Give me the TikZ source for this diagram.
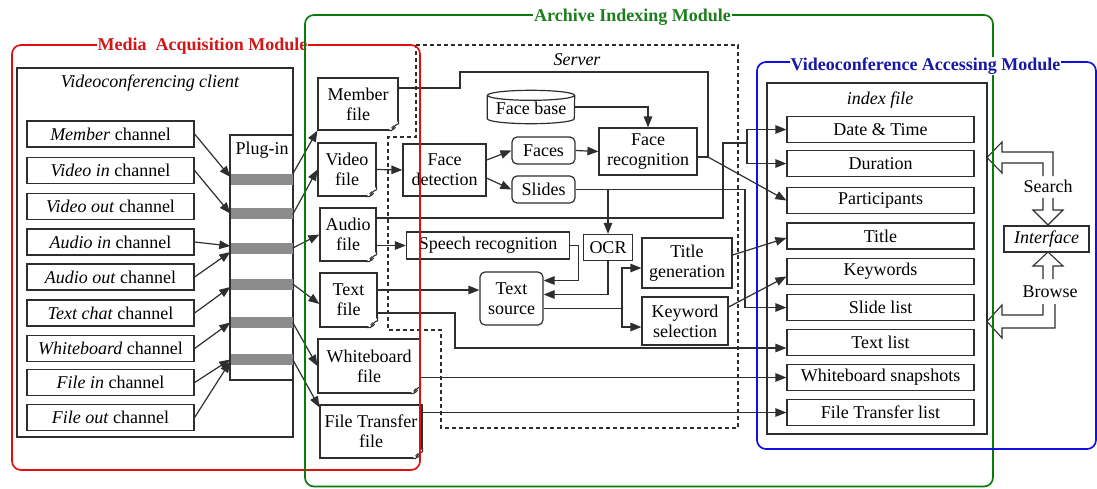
\documentclass[tikz,border=0pt]{standalone}
\usepackage{fontspec}
\setmainfont{Liberation Serif}
\usetikzlibrary{arrows.meta,calc}
\definecolor{lc}{HTML}{2E2E2E}
\definecolor{modred}{HTML}{E01010}
\definecolor{modgreen}{HTML}{0A7A0A}
\definecolor{modblue}{HTML}{1010E0}
\definecolor{tred}{HTML}{D01818}
\definecolor{tgreen}{HTML}{1E7E1E}
\definecolor{tblue}{HTML}{1818A8}
\definecolor{bargray}{HTML}{8C8C8C}
\newcommand{\filecurl}[1]{%
  \fill[white] ($(#1.south east)+(-11,1)$) -- ($(#1.south east)+(1,1)$) -- ($(#1.south east)+(1,-11)$) -- cycle;
  \draw[lc, line width=1.1pt] ($(#1.south east)+(-11,0)$) -- ($(#1.south east)+(-7,0)$) to[out=60,in=200] ($(#1.south east)+(0,-7)$) -- ($(#1.south east)+(0,-11)$);
  \draw[lc, line width=0.7pt] ($(#1.south east)+(-5,-3)$) circle[radius=1.8pt];}
\begin{document}
\begin{tikzpicture}[x=1pt,y=-1pt,
  font=\fontsize{18}{20}\selectfont,
  bx/.style={draw=lc, line width=1.2pt, inner sep=1pt, align=center},
  rbx/.style={bx, rounded corners=5pt},
  chan/.style={bx, minimum width=167pt, minimum height=26pt},
  entry/.style={bx, minimum width=187pt, minimum height=26pt},
  filebox/.style={bx, fill=white},
  bar/.style={fill=bargray, minimum width=62pt, minimum height=11pt, inner sep=0pt},
  arr/.style={draw=lc, line width=1.2pt, -{Triangle[length=11pt,width=8.5pt]}},
  ln/.style={draw=lc, line width=1.2pt},
  hollow/.style={draw=lc, line width=1.1pt, line join=miter},
  modtitle/.style={fill=white, inner sep=1pt, font=\fontsize{18}{20}\selectfont\bfseries},
]
\useasboundingbox (0,0) rectangle (1097,488);

% ---------- Videoconferencing client ----------
\node[bx, minimum width=276pt, minimum height=369pt] (vcc) at (155,252.5) {};
\node[font=\fontsize{18}{20}\selectfont\itshape] (vcclabel) at (150,83) {Videoconferencing client};

\node[chan] (ch1) at (110.5,134) {\textit{Member} channel};
\node[chan] (ch2) at (110.5,170.5) {\textit{Video in} channel};
\node[chan] (ch3) at (110.5,206.5) {\textit{Video out} channel};
\node[chan] (ch4) at (110.5,242) {\textit{Audio in} channel};
\node[chan] (ch5) at (110.5,277) {\textit{Audio out} channel};
\node[chan] (ch6) at (110.5,313) {\textit{Text chat} channel};
\node[chan] (ch7) at (110.5,348.5) {\textit{Whiteboard} channel};
\node[chan] (ch8) at (110.5,382.5) {\textit{File in} channel};
\node[chan] (ch9) at (110.5,417.5) {\textit{File out} channel};

% Plug-in
\node[bx, minimum width=63pt, minimum height=245pt] (plug) at (261.5,257.5) {};
\node (pluglabel) at (262,150) {Plug-in};
\node[bar] (b1) at (261.5,179) {};
\node[bar] (b2) at (261.5,213.5) {};
\node[bar] (b3) at (261.5,248) {};
\node[bar] (b4) at (261.5,284) {};
\node[bar] (b5) at (261.5,322.5) {};
\node[bar] (b6) at (261.5,359.5) {};

\draw[arr] (ch1.east) -- ($(b1.west)+(0,-2)$);
\draw[arr] (ch2.east) -- (b2.west);
\draw[arr] (ch4.east) -- ($(b3.west)+(0,-2)$);
\draw[arr] (ch5.east) -- ($(b3.west)+(0,4)$);
\draw[arr] (ch6.east) -- ($(b4.west)+(0,3)$);
\draw[arr] (ch7.east) -- (b5.west);
\draw[arr] (ch8.east) -- (b6.west);
\draw[arr] (ch9.east) -- ($(b6.west)+(0,2)$);

% ---------- Files ----------
\node[filebox, minimum width=80pt, minimum height=52pt] (mf) at (358,104) {Member\\file};
\node[filebox, minimum width=58pt, minimum height=53pt] (vf) at (347,169.5) {Video\\file};
\node[filebox, minimum width=56pt, minimum height=53pt] (af) at (348,234.5) {Audio\\file};
\node[filebox, minimum width=57pt, minimum height=54pt] (tf) at (348.5,300) {Text\\file};
\node[filebox, minimum width=102pt, minimum height=54pt] (wf) at (369,366) {Whiteboard\\file};
\node[filebox, minimum width=102pt, minimum height=53pt] (ftf) at (371,431.5) {File Transfer\\file};
\filecurl{mf}\filecurl{vf}\filecurl{af}\filecurl{tf}\filecurl{wf}\filecurl{ftf}

\draw[arr] ($(b1.east)+(0,-5)$) -- (mf.south west);
\draw[arr] ($(b2.east)+(0,1)$) -- (vf.west);
\draw[arr] (b3.east) -- (af.west);
\draw[arr] (b4.east) -- ($(tf.west)+(0,4)$);
\draw[arr] (b5.east) -- (wf.west);
\draw[arr] (b6.east) -- ($(ftf.north west)+(0,3)$);

% ---------- Server ----------
\draw[lc, line width=1.1pt, dash pattern=on 4pt off 3pt] (416,45) -- (738,45) -- (738,428) -- (441,428) -- (441,330) -- (388,330) -- (388,137) -- (416,137) -- cycle;
\node[font=\fontsize{18}{20}\selectfont\itshape] (srv) at (577,60) {Server};

\node[minimum width=87pt, minimum height=33pt, inner sep=0pt] (fb) at (531,107) {};
\draw[lc, line width=1.2pt] ($(fb.north)+(0,5)$) ellipse[x radius=43.5pt, y radius=5pt];
\draw[lc, line width=1.2pt] ($(fb.north west)+(0,5)$) -- ($(fb.south west)+(0,-5)$) arc[start angle=180, end angle=360, x radius=43.5pt, y radius=5pt] -- ($(fb.north east)+(0,5)$);
\node (fbtext) at (531,108) {Face base};

\node[bx, minimum width=98pt, minimum height=47pt] (fr) at (648,151.5) {Face\\recognition};
\node[bx, minimum width=83pt, minimum height=52pt] (fd) at (444.5,170) {Face\\detection};
\node[rbx, minimum width=63pt, minimum height=27pt] (faces) at (543.5,150.5) {Faces};
\node[rbx, minimum width=63pt, minimum height=27pt] (slides) at (543.5,189.5) {Slides};
\node[bx, minimum width=163pt, minimum height=27pt] (sr) at (488,245.5) {Speech recognition};
\node[bx, minimum width=49pt, minimum height=26pt] (ocr) at (608,247.5) {OCR};
\node[bx, minimum width=90pt, minimum height=50pt] (tg) at (687,263) {Title\\generation};
\node[bx, minimum width=86pt, minimum height=48pt] (ks) at (685,321) {Keyword\\selection};
\node[rbx, minimum width=63pt, minimum height=53pt] (ts) at (511.5,298.5) {Text\\source};

% ---------- Accessing side ----------
\node[bx, minimum width=220pt, minimum height=351pt] (idx) at (877,258.5) {};
\node[font=\fontsize{18}{20}\selectfont\itshape] (idxlabel) at (880,100) {index file};
\node[entry] (dt) at (880.5,129.5) {Date \& Time};
\node[entry] (dur) at (880.5,163.5) {Duration};
\node[entry] (part) at (880.5,200.5) {Participants};
\node[entry] (ttl) at (880.5,236) {Title};
\node[entry] (kw) at (880.5,271.5) {Keywords};
\node[entry] (sl) at (880.5,307.5) {Slide list};
\node[entry] (tl) at (880.5,342.5) {Text list};
\node[entry] (wbs) at (880.5,377.5) {Whiteboard snapshots};
\node[entry] (ftl) at (880.5,412.5) {File Transfer list};

\node[bx, minimum width=85pt, minimum height=26pt, font=\fontsize{18}{20}\selectfont\itshape] (intf) at (1046.5,239) {Interface};
\node (srch) at (1048,186) {Search};
\node (brw) at (1050,292) {Browse};

% hollow arrows
\draw[hollow] (1043,176) -- (1043,163) -- (1002,163) -- (1002,173) -- (987,157.5) -- (1002,142) -- (1002,152) -- (1053,152) -- (1053,176);
\draw[hollow] (1043,198) -- (1043,210) -- (1033,210) -- (1048,225) -- (1063,210) -- (1053,210) -- (1053,198);
\draw[hollow] (1043,279) -- (1043,266) -- (1033,266) -- (1048,252) -- (1063,266) -- (1053,266) -- (1053,279);
\draw[hollow] (1043,304) -- (1043,315) -- (1002,315) -- (1002,305) -- (987,321.5) -- (1002,338) -- (1002,328) -- (1055,328) -- (1055,304);

% ---------- Connectors ----------
\coordinate (j1) at (708,157);
\draw[ln] ($(mf.east)+(0,-16)$) -- (460,88) -- (460,72) -- (708,72) -- (j1);
\draw[ln] ($(fr.east)+(0,5.5)$) -- (j1);
\draw[arr] (j1) -- (part.west);

\draw[arr] (fb.east) -| (fr.north);
\draw[arr] (faces.east) -- (fr.west);
\draw[arr] (vf.east) -- (fd.west);
\draw[arr] ($(fd.east)+(0,-10)$) -- (faces.west);
\draw[arr] ($(fd.east)+(0,8)$) -- (slides.west);

\draw[arr] (slides.east) -- (745,189.5) |- (sl.west);
\draw[arr] (ocr.north |- slides.east) -- (ocr.north);

\coordinate (j3) at (747,143);
\draw[ln] ($(af.east)+(0,-16.5)$) -- (723,218) -- (723,143) -- (j3);
\draw[arr] (j3) |- (dt.west);
\draw[arr] (j3) |- (dur.west);
\draw[arr] (af.east |- sr.west) -- (sr.west);

\draw[arr] (sr.east) -- ++(8,0) |- ($(ts.east)+(0,-18)$);
\draw[arr] (ocr.south) |- ($(ts.east)+(0,-4)$);

\draw[arr] ($(tf.east)+(0,-10)$) -- ($(ts.west)+(0,-8.5)$);
\draw[arr] ($(tf.east)+(0,13)$) -- (455,313) |- ($(tl.west)+(0,5.5)$);

\coordinate (j2) at (622,308.5);
\draw[ln] ($(ts.east)+(0,10)$) -- (j2);
\draw[arr] (j2) |- ($(tg.west)+(0,5)$);
\draw[arr] (j2) |- ($(ks.west)+(0,6)$);

\draw[arr] ($(tg.east)+(0,-8)$) -- ($(ttl.west)+(0,2)$);
\draw[arr] ($(ks.east)+(0,-14)$) -- ($(kw.west)+(0,5)$);

\draw[arr] ($(wf.east)+(0,11.5)$) -- (wbs.west);
\draw[arr] ($(ftf.east)+(0,-19)$) -- (ftl.west);

% ---------- Module frames ----------
\draw[modred, line width=1.7pt, rounded corners=9pt] (12,45) rectangle (420,470);
\node[modtitle, text=tred] (mtred) at (202.5,46) {Media\ \ Acquisition Module};
\draw[modgreen, line width=1.7pt, rounded corners=9pt] (305,15) rectangle (993,486.5);
\node[modtitle, text=tgreen] (mtgreen) at (632.5,17) {Archive Indexing Module};
\draw[modblue, line width=1.7pt, rounded corners=9pt] (757,62) rectangle (1096,449);
\node[modtitle, text=tblue] (mtblue) at (925.5,66) {Videoconference Accessing Module};
\end{tikzpicture}
\end{document}
